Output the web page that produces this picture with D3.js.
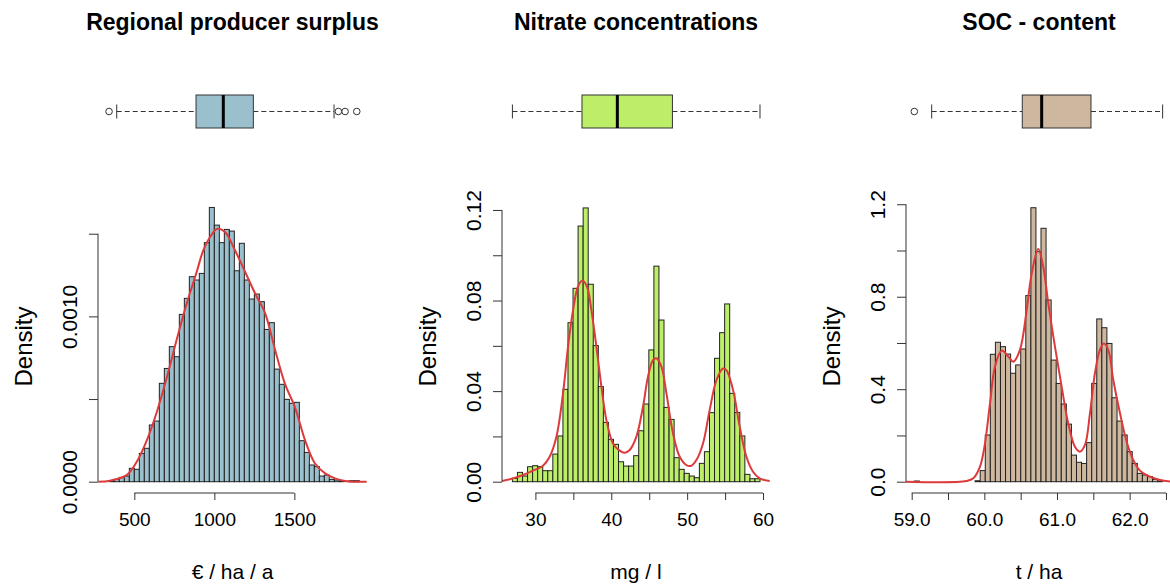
<!DOCTYPE html>
<html lang="en">
  <head>
    <meta charset="utf-8" />
    <title>Histograms</title>
    <script src="https://d3js.org/d3.v7.min.js"></script>
    <style>
      body { margin: 0; background: #fff; }
      text { font-family: "Liberation Sans", Arial, sans-serif; fill: #000; }
    </style>
  </head>
  <body>
    <script>
      // ---- data ----
      // regional producer surplus (EUR / ha / a)
      var surplusBinStart = 343.75;
      var surplusBinWidth = 31.25;
      var surplusDensity = [0.000006, 0.000014, 0.000026, 0.000034, 0.000081, 0.000075, 0.000171, 0.000202,
        0.000343, 0.000367, 0.000595, 0.000685, 0.000817, 0.000756, 0.001012, 0.001109, 0.001240,
        0.001220, 0.001260, 0.001446, 0.001659, 0.001552, 0.001446, 0.001526, 0.001516, 0.001276,
        0.001442, 0.001220, 0.001105, 0.001135, 0.001089, 0.000921, 0.000962, 0.000681, 0.000589,
        0.000498, 0.000474, 0.000480, 0.000248, 0.000177, 0.000101, 0.000091, 0.000034, 0.000040,
        0.000014, 0.000010, 0.000004, 0, 0.000006, 0.000006];
      var surplusCurveX = [275, 348, 452, 515, 578, 640, 703, 765, 828, 890, 931, 973, 1019, 1067, 1129,
        1192, 1254, 1317, 1379, 1442, 1504, 1567, 1629, 1692, 1754, 1817, 1880, 1952];
      var surplusCurveY = [0, 0.000006, 0.00004, 0.00012, 0.00025, 0.00042, 0.00063, 0.00086, 0.00108,
        0.00127, 0.00140, 0.00148, 0.00153, 0.00151, 0.00140, 0.00127, 0.00114, 0.00102, 0.00080,
        0.00059, 0.00045, 0.00025, 0.00011, 0.00005, 0.00002, 0.000004, 0, 0];
      var surplusBox = [390, 885.6, 1056, 1243.75, 1748];
      var surplusOutliers = [342, 1775, 1817, 1890];
      var surplusXTicks = [500, 1000, 1500];
      var surplusXLabels = ["500", "1000", "1500"];
      var surplusYTicks = [0, 0.0005, 0.001, 0.0015];
      var surplusYLabels = ["0.0000", "", "0.0010", ""];

      // nitrate concentrations (mg / l)
      var nitrateBinStart = 26.97;
      var nitrateBinWidth = 0.666;
      var nitrateDensity = [0.00147, 0.00412, 0.0025, 0.00662, 0.00707, 0.00662, 0.00486, 0.00486,
        0.0122, 0.0202, 0.0408, 0.0702, 0.0854, 0.1129, 0.1209, 0.0872, 0.0601, 0.042, 0.0262,
        0.0187, 0.0165, 0.0088, 0.0069, 0.0069, 0.0115, 0.0225, 0.0343, 0.0582, 0.0952, 0.0714,
        0.0328, 0.0275, 0.0106, 0.00545, 0.00368, 0.0025, 0.00177, 0.0081, 0.01325, 0.0305,
        0.0545, 0.0658, 0.0785, 0.039, 0.0306, 0.0202, 0.00324, 0.0013, 0.0013];
      var nitrateCurveX = [25.6, 27.05, 28.37, 29.68, 31.0, 31.88, 32.77, 33.64, 34.30, 34.96, 35.61,
        36.19, 36.80, 37.38, 38.04, 38.70, 39.36, 40.23, 41.11, 41.77, 42.43, 43.31, 44.18, 44.84,
        45.50, 45.95, 46.61, 47.27, 48.14, 49.02, 49.90, 50.56, 51.22, 52.09, 52.97, 53.86, 54.73,
        55.17, 56.05, 56.93, 57.81, 58.68, 59.56, 60.88];
      var nitrateCurveY = [0.0003, 0.00147, 0.00294, 0.00486, 0.00707, 0.01104, 0.01988, 0.039, 0.0596,
        0.0758, 0.0861, 0.0888, 0.0861, 0.0758, 0.0596, 0.042, 0.0272, 0.0169, 0.0137, 0.0128,
        0.014, 0.0199, 0.0331, 0.0464, 0.0537, 0.0545, 0.0508, 0.039, 0.0213, 0.011, 0.00736,
        0.00707, 0.00957, 0.0169, 0.0317, 0.0449, 0.05, 0.0493, 0.0405, 0.0243, 0.011, 0.00442,
        0.00147, 0.0003];
      var nitrateBox = [26.97, 36.14, 40.8, 48.06, 59.6];
      var nitrateOutliers = [];
      var nitrateXTicks = [30, 35, 40, 45, 50, 55, 60];
      var nitrateXLabels = ["30", "", "40", "", "50", "", "60"];
      var nitrateYTicks = [0, 0.02, 0.04, 0.06, 0.08, 0.1, 0.12];
      var nitrateYLabels = ["0.00", "", "0.04", "", "0.08", "", "0.12"];

      // SOC content (t / ha)
      var socBinStart = 59.036;
      var socBinWidth = 0.06976;
      var socDensity = [0.003, 0, 0, 0, 0, 0, 0, 0, 0, 0, 0, 0, 0.004, 0.048, 0.202, 0.551, 0.603,
        0.584, 0.552, 0.469, 0.505, 0.574, 0.805, 1.185, 0.995, 1.096, 0.786, 0.526, 0.425, 0.336,
        0.249, 0.115, 0.084, 0.079, 0.169, 0.425, 0.704, 0.666, 0.598, 0.363, 0.262, 0.202, 0.130,
        0.079, 0.036, 0.029, 0.022, 0.010, 0.003];
      var socCurveX = [58.92, 59.757, 59.848, 59.94, 60.009, 60.078, 60.146, 60.239, 60.33, 60.398,
        60.49, 60.583, 60.652, 60.742, 60.811, 60.88, 60.972, 61.064, 61.155, 61.247, 61.316,
        61.385, 61.454, 61.522, 61.591, 61.646, 61.706, 61.775, 61.867, 61.959, 62.05, 62.142,
        62.28, 62.42, 62.6];
      var socCurveY = [0, 0.003, 0.0144, 0.065, 0.166, 0.339, 0.497, 0.567, 0.541, 0.519, 0.57, 0.743,
        0.901, 1.006, 0.93, 0.771, 0.584, 0.411, 0.252, 0.151, 0.13, 0.159, 0.296, 0.469, 0.57,
        0.598, 0.57, 0.44, 0.296, 0.173, 0.094, 0.048, 0.0216, 0.0072, 0];
      var socBox = [59.275, 60.522, 60.789, 61.468, 62.454];
      var socOutliers = [59.036];
      var socXTicks = [59, 59.5, 60, 60.5, 61, 61.5, 62, 62.5];
      var socXLabels = ["59.0", "", "60.0", "", "61.0", "", "62.0", ""];
      var socYTicks = [0, 0.2, 0.4, 0.6, 0.8, 1.0, 1.2];
      var socYLabels = ["0.0", "", "0.4", "", "0.8", "", "1.2"];

      var width = 1170, height = 585;
      var lineRed = "#dd3a3c";

      var svg = d3.select("body").append("svg")
        .attr("width", width)
        .attr("height", height);

      function panel(o) {
        var x = d3.scaleLinear().domain(o.xDomain).range([o.left, o.right]);
        var y = d3.scaleLinear().domain(o.yDomain).range([o.bottom, o.top]);
        var g = svg.append("g");

        // title
        g.append("text")
          .attr("x", (o.left + o.right) / 2)
          .attr("y", 30)
          .attr("text-anchor", "middle")
          .style("font-size", "23px")
          .style("font-weight", "bold")
          .text(o.title);

        // boxplot on top
        var b = o.box, bTop = 95, bBot = 128, bMid = (bTop + bBot) / 2;
        g.append("line")
          .attr("x1", x(b[0])).attr("x2", x(b[1]))
          .attr("y1", bMid).attr("y2", bMid)
          .attr("stroke", "#333").attr("stroke-dasharray", "5,3");
        g.append("line")
          .attr("x1", x(b[3])).attr("x2", x(b[4]))
          .attr("y1", bMid).attr("y2", bMid)
          .attr("stroke", "#333").attr("stroke-dasharray", "5,3");
        [b[0], b[4]].forEach(function (v) {
          g.append("line")
            .attr("x1", x(v)).attr("x2", x(v))
            .attr("y1", bMid - 7).attr("y2", bMid + 7)
            .attr("stroke", "#333");
        });
        g.append("rect")
          .attr("x", x(b[1])).attr("y", bTop)
          .attr("width", x(b[3]) - x(b[1])).attr("height", bBot - bTop)
          .attr("fill", o.color).attr("stroke", "#333");
        g.append("line")
          .attr("x1", x(b[2])).attr("x2", x(b[2]))
          .attr("y1", bTop).attr("y2", bBot)
          .attr("stroke", "#000").attr("stroke-width", 3);
        g.selectAll(".out").data(o.outliers).enter().append("circle")
          .attr("cx", function (d) { return x(d); })
          .attr("cy", bMid).attr("r", 3.3)
          .attr("fill", "none").attr("stroke", "#333");

        // histogram
        var clip = "clip" + o.id;
        svg.append("clipPath").attr("id", clip).append("rect")
          .attr("x", o.left).attr("y", o.top)
          .attr("width", o.right - o.left).attr("height", o.bottom - o.top);
        var h = g.append("g").attr("clip-path", "url(#" + clip + ")");
        h.selectAll("rect").data(o.density).enter().append("rect")
          .attr("x", function (d, i) { return x(o.binStart + i * o.binWidth); })
          .attr("width", function (d, i) { return x(o.binStart + (i + 1) * o.binWidth) - x(o.binStart + i * o.binWidth); })
          .attr("y", function (d) { return y(d); })
          .attr("height", function (d) { return y(0) - y(d); })
          .attr("fill", o.color)
          .attr("stroke", "#222")
          .attr("stroke-width", 1);

        var line = d3.line()
          .x(function (d) { return x(d[0]); })
          .y(function (d) { return y(d[1]); })
          .curve(d3.curveCatmullRom);
        h.append("path")
          .datum(d3.zip(o.curveX, o.curveY))
          .attr("d", line)
          .attr("fill", "none")
          .attr("stroke", lineRed)
          .attr("stroke-width", 2);

        // x axis
        var xa = g.append("g").attr("transform", "translate(0," + o.bottom + ")")
          .call(d3.axisBottom(x).tickValues(o.xTicks).tickSize(7)
            .tickFormat(function (d, i) { return o.xLabels[i]; }));
        xa.select(".domain").attr("d", "M" + x(o.xTicks[0]) + ",0H" + x(o.xTicks[o.xTicks.length - 1]));
        xa.selectAll("text").style("font-size", "19px").attr("dy", "1.2em");

        // y axis
        var ya = g.append("g").attr("transform", "translate(" + o.left + ",0)")
          .call(d3.axisLeft(y).tickValues(o.yTicks).tickSize(9)
            .tickFormat(function (d, i) { return o.yLabels[i]; }));
        ya.select(".domain").attr("d", "M0," + y(o.yTicks[0]) + "V" + y(o.yTicks[o.yTicks.length - 1]));
        ya.selectAll("text")
          .style("font-size", "21px")
          .attr("text-anchor", "middle")
          .attr("dy", null)
          .attr("x", null)
          .attr("dominant-baseline", "central")
          .attr("transform", "translate(-29,0) rotate(-90)");

        g.append("text")
          .attr("transform", "translate(" + (o.left - 75) + "," + (o.top + o.bottom) / 2 + ") rotate(-90)")
          .attr("text-anchor", "middle")
          .attr("dominant-baseline", "central")
          .style("font-size", "24px")
          .text("Density");

        g.append("text")
          .attr("x", (o.left + o.right) / 2)
          .attr("y", 579)
          .attr("text-anchor", "middle")
          .style("font-size", "21px")
          .text(o.xTitle);

        svg.selectAll(".domain, .tick line").attr("stroke", "#333");
      }

      panel({
        id: 1, title: "Regional producer surplus", xTitle: "\u20ac / ha / a", color: "#9ac0cd",
        left: 98, right: 367, top: 200, bottom: 493,
        xDomain: [273, 1954], yDomain: [-0.0000684, 0.001704],
        binStart: surplusBinStart, binWidth: surplusBinWidth, density: surplusDensity,
        curveX: surplusCurveX, curveY: surplusCurveY, box: surplusBox, outliers: surplusOutliers,
        xTicks: surplusXTicks, xLabels: surplusXLabels, yTicks: surplusYTicks, yLabels: surplusYLabels
      });

      panel({
        id: 2, title: "Nitrate concentrations", xTitle: "mg / l", color: "#bcee68",
        left: 502, right: 770, top: 200, bottom: 493,
        xDomain: [25.598, 60.92], yDomain: [-0.00499, 0.1244],
        binStart: nitrateBinStart, binWidth: nitrateBinWidth, density: nitrateDensity,
        curveX: nitrateCurveX, curveY: nitrateCurveY, box: nitrateBox, outliers: nitrateOutliers,
        xTicks: nitrateXTicks, xLabels: nitrateXLabels, yTicks: nitrateYTicks, yLabels: nitrateYLabels
      });

      panel({
        id: 3, title: "SOC - content", xTitle: "t / ha", color: "#cdb79e",
        left: 906, right: 1172, top: 200, bottom: 493,
        xDomain: [58.9216, 62.583], yDomain: [-0.0489, 1.2184],
        binStart: socBinStart, binWidth: socBinWidth, density: socDensity,
        curveX: socCurveX, curveY: socCurveY, box: socBox, outliers: socOutliers,
        xTicks: socXTicks, xLabels: socXLabels, yTicks: socYTicks, yLabels: socYLabels
      });
    </script>
  </body>
</html>
